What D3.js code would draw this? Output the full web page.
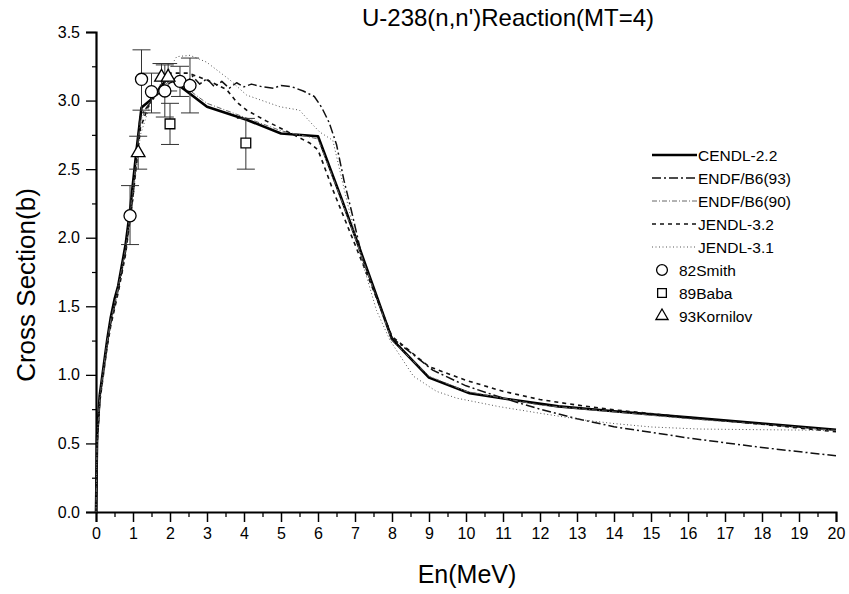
<!DOCTYPE html>
<html>
<head>
<meta charset="utf-8">
<script src="https://cdn.jsdelivr.net/npm/d3@7"></script>
<style>
html,body{margin:0;padding:0;background:#fff;}
svg{display:block;font-family:"Liberation Sans",Arial,sans-serif;}
</style>
</head>
<body>
<svg id="chart" width="849" height="594"></svg>
<script>
// ---------- data ----------
const xTicks = [0,1,2,3,4,5,6,7,8,9,10,11,12,13,14,15,16,17,18,19,20];
const yTicks = [0.0,0.5,1.0,1.5,2.0,2.5,3.0,3.5];

const cendlE = [0,0.03,0.1,0.2,0.3,0.4,0.5,0.6,0.8,0.92,1.0,1.1,1.23,1.46,1.95,2.2,3.0,4.07,5.0,6.0,6.64,7.14,8.0,9.0,10.1,11.2,12.5,14,16,18,20];
const cendlS = [0,0.55,0.85,1.05,1.25,1.42,1.55,1.65,1.95,2.2,2.4,2.65,2.95,3.0,3.17,3.12,2.955,2.86,2.76,2.74,2.28,1.91,1.26,0.98,0.866,0.82,0.77,0.735,0.69,0.645,0.6];

const endf93E = [0,0.03,0.1,0.2,0.3,0.4,0.6,0.8,1.0,1.19,1.5,1.8,2.0,2.2,2.4,2.6,2.8,3.0,3.2,3.4,3.6,3.8,4.0,4.2,4.5,4.8,5.0,5.3,5.6,5.9,6.1,6.3,6.5,6.7,6.9,7.2,8.0,9.1,10.0,11.0,12.0,13.0,14.0,16.0,18.0,20.0];
const endf93S = [0,0.5,0.82,1.02,1.22,1.38,1.62,1.9,2.3,2.88,3.0,3.08,3.13,3.15,3.12,3.18,3.12,3.16,3.1,3.14,3.09,3.13,3.1,3.12,3.1,3.09,3.11,3.1,3.07,3.03,2.95,2.84,2.68,2.42,2.2,1.85,1.27,1.035,0.92,0.83,0.75,0.68,0.622,0.54,0.47,0.41];

const endf90E = [0,0.03,0.1,0.2,0.3,0.4,0.6,0.8,1.0,1.2,1.5,2.0,2.5,3.0,4.0,5.0,6.0,6.6,7.2,8.0,9.0,10.0,11.0,12.0,14.0,16.0,18.0,20.0];
const endf90S = [0,0.52,0.84,1.04,1.24,1.4,1.64,1.92,2.35,2.85,3.02,3.15,3.08,2.98,2.88,2.78,2.72,2.3,1.85,1.25,0.99,0.88,0.83,0.78,0.73,0.68,0.64,0.595];

const jendl32E = [0,0.03,0.1,0.2,0.3,0.4,0.6,0.8,1.0,1.2,1.5,2.0,2.5,3.0,3.53,3.8,4.07,4.61,5.2,5.78,6.0,6.14,6.4,7.0,8.0,9.0,10.0,11.0,12.0,13.0,14.0,16.0,18.0,20.0];
const jendl32S = [0,0.5,0.8,1.0,1.2,1.36,1.6,1.88,2.3,2.8,3.02,3.2,3.2,3.15,3.08,2.99,2.93,2.85,2.77,2.69,2.64,2.54,2.35,1.95,1.28,1.06,0.96,0.88,0.82,0.78,0.745,0.69,0.64,0.585];

const jendl31E = [0,0.03,0.1,0.2,0.3,0.4,0.6,0.8,1.0,1.2,1.5,1.8,2.18,2.54,2.99,3.62,4.07,4.97,5.5,5.87,6.05,6.4,7.05,7.58,7.95,8.58,9.2,9.75,10.9,12.0,13.2,14.0,15.0,16.3,18.0,20.0];
const jendl31S = [0,0.48,0.8,1.0,1.2,1.38,1.62,1.9,2.3,2.75,3.0,3.15,3.32,3.33,3.28,3.15,3.04,2.955,2.93,2.82,2.77,2.71,1.96,1.47,1.25,0.99,0.88,0.83,0.768,0.72,0.67,0.645,0.62,0.605,0.6,0.595];

const smithE  = [0.92,1.23,1.5,1.86,2.27,2.54];
const smithS  = [2.16,3.155,3.065,3.07,3.14,3.11];
const smithLo = [1.95,2.93,2.91,2.88,3.03,2.91];
const smithHi = [2.38,3.37,3.2,3.26,3.25,3.31];

const babaE  = [2.0,4.05];
const babaS  = [2.83,2.69];
const babaLo = [2.68,2.5];
const babaHi = [2.98,2.87];

const kornE  = [1.14,1.77,1.95];
const kornS  = [2.62,3.17,3.17];
const kornLo = [2.5,3.07,3.07];
const kornHi = [2.74,3.27,3.27];

const seriesNames = ["CENDL-2.2","ENDF/B6(93)","ENDF/B6(90)","JENDL-3.2","JENDL-3.1"];
const pointNames = ["82Smith","89Baba","93Kornilov"];

// ---------- layout ----------
const svg = d3.select("#chart");
const x = d3.scaleLinear().domain([0,20]).range([96,836]);
const y = d3.scaleLinear().domain([0,3.5]).range([512,32]);

const lineStyles = [
  {stroke:"#000", width:2.6, dash:null},
  {stroke:"#111", width:1.5, dash:"9,3,2,3"},
  {stroke:"#666", width:1.0, dash:"5,2,1,2"},
  {stroke:"#111", width:1.6, dash:"4,4"},
  {stroke:"#555", width:1.0, dash:"1,2.5"}
];
const curves = [
  [cendlE,cendlS],[endf93E,endf93S],[endf90E,endf90S],[jendl32E,jendl32S],[jendl31E,jendl31S]
];

// axes
const xAxis = d3.axisBottom(x).tickValues(xTicks).tickSize(10).tickPadding(6).tickFormat(d3.format("d"));
const gx = svg.append("g").attr("transform","translate(0,512)").call(xAxis);
gx.select(".domain").attr("stroke-width",2);
gx.selectAll(".tick line").attr("stroke-width",1.5);
gx.selectAll("text").attr("font-size",16).attr("fill","#000");
const xMinor = d3.axisBottom(x).tickValues(d3.range(0.5,20,1)).tickSize(5).tickFormat("");
svg.append("g").attr("transform","translate(0,512)").call(xMinor).call(g=>g.select(".domain").remove())
  .selectAll(".tick line").attr("stroke-width",1.3);

const yAxis = d3.axisLeft(y).tickValues(yTicks).tickSize(10).tickPadding(6).tickFormat(d3.format(".1f"));
const gy = svg.append("g").attr("transform","translate(96,0)").call(yAxis);
gy.select(".domain").attr("stroke-width",2.2);
gy.selectAll(".tick line").attr("stroke-width",1.3);
gy.selectAll("text").attr("font-size",16).attr("fill","#000");
const yMinor = d3.axisLeft(y).tickValues(d3.range(0.25,3.5,0.5)).tickSize(4).tickFormat("");
svg.append("g").attr("transform","translate(96,0)").call(yMinor).call(g=>g.select(".domain").remove())
  .selectAll(".tick line").attr("stroke-width",1.2);

// curves
const line = d3.line().x(d=>x(d[0])).y(d=>y(d[1]));
const plot = svg.append("g");
curves.forEach((c,i)=>{
  const pts = c[0].map((e,j)=>[e,c[1][j]]);
  const st = lineStyles[i];
  plot.append("path").datum(pts).attr("d",line).attr("fill","none")
    .attr("stroke",st.stroke).attr("stroke-width",st.width)
    .attr("stroke-dasharray",st.dash).attr("stroke-linejoin","round");
});

// error bars & markers
const ptSets = [
  {E:smithE,S:smithS,Lo:smithLo,Hi:smithHi,sym:d3.symbolCircle,size:115},
  {E:babaE,S:babaS,Lo:babaLo,Hi:babaHi,sym:d3.symbolSquare,size:95},
  {E:kornE,S:kornS,Lo:kornLo,Hi:kornHi,sym:d3.symbolTriangle,size:80}
];
ptSets.forEach(p=>{
  p.E.forEach((e,j)=>{
    const g = plot.append("g").attr("stroke","#333").attr("stroke-width",1);
    g.append("line").attr("x1",x(e)).attr("x2",x(e)).attr("y1",y(p.Lo[j])).attr("y2",y(p.Hi[j]));
    g.append("line").attr("x1",x(e)-9).attr("x2",x(e)+9).attr("y1",y(p.Lo[j])).attr("y2",y(p.Lo[j]));
    g.append("line").attr("x1",x(e)-9).attr("x2",x(e)+9).attr("y1",y(p.Hi[j])).attr("y2",y(p.Hi[j]));
  });
});
ptSets.forEach(p=>{
  p.E.forEach((e,j)=>{
    plot.append("path").attr("d",d3.symbol().type(p.sym).size(p.size)())
      .attr("transform",`translate(${x(e)},${y(p.S[j])})`)
      .attr("fill","#fff").attr("stroke","#000").attr("stroke-width",1.3);
  });
});

// legend
const lg = svg.append("g");
const row0 = 155, rowH = 23;
seriesNames.forEach((n,i)=>{
  const yy = row0 + i*rowH;
  const st = lineStyles[i];
  lg.append("line").attr("x1",652).attr("x2",697).attr("y1",yy).attr("y2",yy)
    .attr("stroke",st.stroke).attr("stroke-width",st.width).attr("stroke-dasharray",st.dash);
  lg.append("text").attr("x",698).attr("y",yy+5.5).attr("font-size",15.5).text(n);
});
pointNames.forEach((n,i)=>{
  const yy = row0 + (i+5)*rowH;
  lg.append("path").attr("d",d3.symbol().type(ptSets[i].sym).size(ptSets[i].size*0.8)())
    .attr("transform",`translate(662,${yy})`).attr("fill","#fff").attr("stroke","#000").attr("stroke-width",1.3);
  lg.append("text").attr("x",679).attr("y",yy+5.5).attr("font-size",15.5).text(n);
});

// titles
svg.append("text").attr("x",508).attr("y",26).attr("text-anchor","middle").attr("font-size",24).text("U-238(n,n')Reaction(MT=4)");
svg.append("text").attr("x",467).attr("y",583).attr("text-anchor","middle").attr("font-size",25).text("En(MeV)");
svg.append("text").attr("transform","translate(35,285) rotate(-90)").attr("text-anchor","middle").attr("font-size",26).text("Cross Section(b)");
</script>
</body>
</html>
